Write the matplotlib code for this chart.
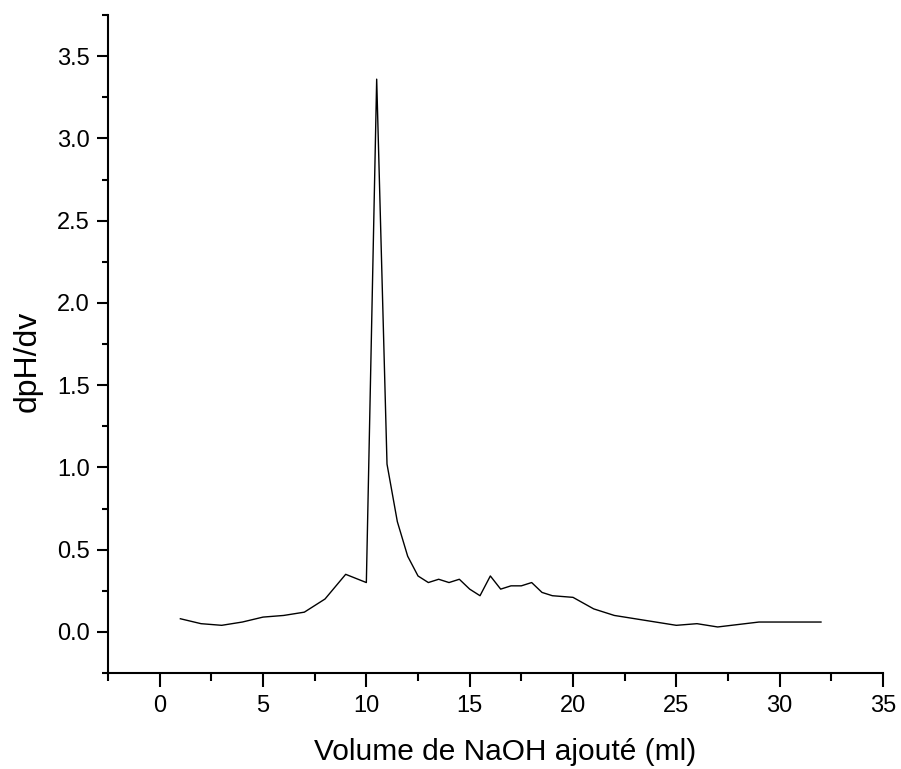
import matplotlib
matplotlib.use("Agg")
import matplotlib.pyplot as plt
from matplotlib.ticker import MultipleLocator, FormatStrFormatter

matplotlib.rcParams['font.family'] = ['Liberation Sans', 'DejaVu Sans']

# volume NaOH (ml) et dpH/dv
volume = [1, 2, 3, 4, 5, 6, 7, 8, 9, 10, 10.5, 11, 11.5, 12, 12.5, 13, 13.5,
          14, 14.5, 15, 15.5, 16, 16.5, 17, 17.5, 18, 18.5, 19, 20, 21, 22,
          23, 24, 25, 26, 27, 28, 29, 30, 31, 32]
dpH_dv = [0.08, 0.05, 0.04, 0.06, 0.09, 0.10, 0.12, 0.20, 0.35, 0.30, 3.36,
          1.02, 0.67, 0.46, 0.34, 0.30, 0.32, 0.30, 0.32, 0.26, 0.22, 0.34,
          0.26, 0.28, 0.28, 0.30, 0.24, 0.22, 0.21, 0.14, 0.10, 0.08, 0.06,
          0.04, 0.05, 0.03, 0.045, 0.06, 0.06, 0.06, 0.06]

fig = plt.figure(figsize=(9.01, 7.69), dpi=100)
ax = fig.add_axes([0.1199, 0.1248, 0.8601, 0.8557])
ax.plot(volume, dpH_dv, color='k', lw=1.0)

ax.set_xlim(-2.5, 35)
ax.set_ylim(-0.25, 3.75)
ax.xaxis.set_major_locator(MultipleLocator(5))
ax.xaxis.set_minor_locator(MultipleLocator(2.5))
ax.yaxis.set_major_locator(MultipleLocator(0.5))
ax.yaxis.set_minor_locator(MultipleLocator(0.25))
ax.yaxis.set_major_formatter(FormatStrFormatter('%.1f'))

for s in ['top', 'right']:
    ax.spines[s].set_visible(False)
for s in ['left', 'bottom']:
    ax.spines[s].set_linewidth(1.5)
ax.tick_params(axis='x', which='major', direction='out', length=10, width=1.5, labelsize=17, pad=6)
ax.tick_params(axis='x', which='minor', direction='out', length=6, width=1.5)
ax.tick_params(axis='y', which='major', direction='out', length=8, width=1.5, labelsize=17, pad=5)
ax.tick_params(axis='y', which='minor', direction='out', length=4.5, width=1.5)

ax.set_xlabel('Volume de NaOH ajouté (ml)', fontsize=21.5, labelpad=15)
ax.xaxis.label.set_x(0.512)
ax.set_ylabel('dpH/dv', fontsize=23)
ax.yaxis.set_label_coords(-0.084, 0.474)

plt.savefig("out.png", dpi=100)
